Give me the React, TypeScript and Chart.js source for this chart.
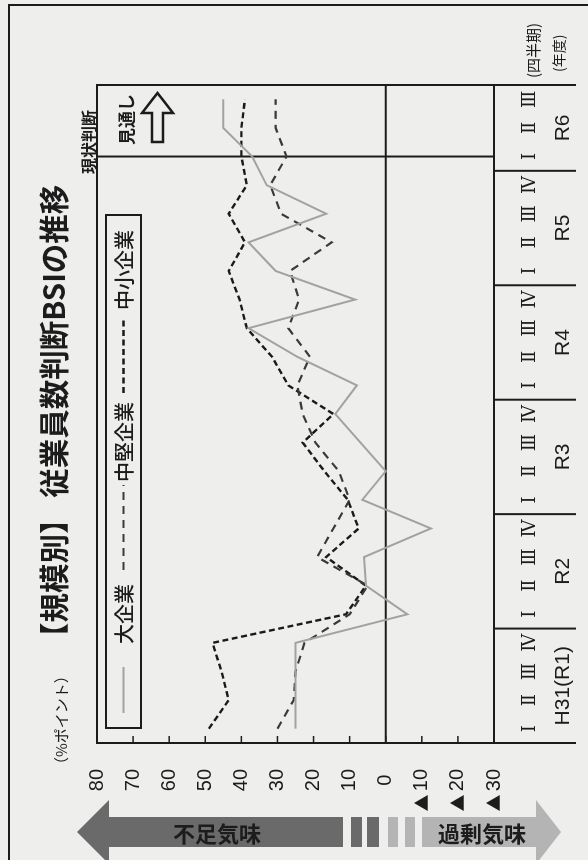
import React, { useEffect, useRef } from 'react';
import { Chart, registerables } from 'chart.js';

Chart.register(...registerables);

// 四半期ラベル (H31(R1)Ⅰ 〜 R6Ⅲ)
const quarterLabels = [
  'Ⅰ', 'Ⅱ', 'Ⅲ', 'Ⅳ',
  'Ⅰ', 'Ⅱ', 'Ⅲ', 'Ⅳ',
  'Ⅰ', 'Ⅱ', 'Ⅲ', 'Ⅳ',
  'Ⅰ', 'Ⅱ', 'Ⅲ', 'Ⅳ',
  'Ⅰ', 'Ⅱ', 'Ⅲ', 'Ⅳ',
  'Ⅰ', 'Ⅱ', 'Ⅲ',
];
const fiscalYears = ['H31(R1)', 'R2', 'R3', 'R4', 'R5', 'R6'];
const quartersInYear = [4, 4, 4, 4, 4, 3];

// 従業員数判断BSI（%ポイント）
const largeFirms = [25, 25, 25, 25, -6, 5.5, 6, -12.5, 6.5, 0, 7, 14, 8, 24.5, 38, 8.5, 30.5, 38, 16.5, 33, 37, 45, 45];
const midFirms = [30, 25.5, 25, 22.5, 10, 5, 19, 14.5, 10, 13, 19.5, 23, 24.5, 21, 27, 24, 26.5, 15, 29, 32, 27.5, 30.5, 30.5];
const smallFirms = [49, 43.5, 45.5, 48, 11, 5.5, 16.5, 7.5, 10.5, 17, 23, 14.5, 27, 31.5, 38.5, 40.5, 43.5, 39, 43.5, 38.5, 40, 40, 39];

const seriesNames = ['大企業', '中堅企業', '中小企業'];

const valueMin = -30;
const valueMax = 80;
const valueStep = 10;
const outlookFrom = 20; // R6Ⅰ = 現状判断、以降は見通し

const INK = '#1c1c1c';
const BG = '#eeeeec';
const LARGE_COLOR = '#a2a2a2';
const MID_COLOR = '#3a3a3a';
const SMALL_COLOR = '#1a1a1a';
const MID_DASH = [8, 6];
const SMALL_DASH = [6, 3.5];

const JP = '"Noto Sans CJK JP", "Noto Sans", sans-serif';
const LATIN = '"Liberation Sans", Arial, sans-serif';

// 枠・ゼロ線・見通し区切り・年度表を描くプラグイン
const framePlugin = {
  id: 'bsiFrame',
  beforeDatasetsDraw(chart: any) {
    const { ctx, chartArea: a } = chart;
    const xs = chart.scales.x;
    const ys = chart.scales.y;
    const seg = (x1: number, y1: number, x2: number, y2: number) => {
      ctx.beginPath();
      ctx.moveTo(x1, y1);
      ctx.lineTo(x2, y2);
      ctx.stroke();
    };
    ctx.save();
    ctx.strokeStyle = INK;
    ctx.fillStyle = INK;
    ctx.lineWidth = 2;

    ctx.strokeRect(a.left, a.top, a.right - a.left, a.bottom - a.top);

    const y0 = ys.getPixelForValue(0);
    seg(a.left, y0, a.right, y0);

    const xd = xs.getPixelForValue(outlookFrom);
    seg(xd, a.top, xd, a.bottom);

    // 目盛り（内向き）
    ctx.lineWidth = 1.5;
    for (let v = valueMin; v <= valueMax; v += valueStep) {
      const py = ys.getPixelForValue(v);
      seg(a.left, py, a.left + 7, py);
    }

    // 年度表
    ctx.lineWidth = 2;
    const tableBottom = a.bottom + 82;
    seg(a.left, a.bottom, a.left, tableBottom);
    seg(a.right, a.bottom, a.right, tableBottom);
    const half = (xs.getPixelForValue(1) - xs.getPixelForValue(0)) / 2;
    ctx.font = `21px ${LATIN}`;
    ctx.textAlign = 'center';
    ctx.textBaseline = 'middle';
    let idx = 0;
    fiscalYears.forEach((fy, i) => {
      const n = quartersInYear[i];
      const start = xs.getPixelForValue(idx) - half;
      const end = xs.getPixelForValue(idx + n - 1) + half;
      if (i > 0) seg(start, a.bottom, start, tableBottom);
      ctx.fillText(fy, (start + end) / 2, a.bottom + 69);
      idx += n;
    });

    // マイナス側の▲
    ctx.font = `17px ${JP}`;
    for (let v = -valueStep; v >= valueMin; v -= valueStep) {
      ctx.fillText('▲', 57, ys.getPixelForValue(v));
    }
    ctx.restore();
  },
};

export default function App() {
  const canvasRef = useRef<HTMLCanvasElement>(null);

  useEffect(() => {
    document.body.style.margin = '0';
    const canvas = canvasRef.current;
    if (!canvas) return;
    const chart = new Chart(canvas, {
      type: 'line',
      data: {
        labels: quarterLabels,
        datasets: [
          {
            label: seriesNames[0],
            data: largeFirms,
            borderColor: LARGE_COLOR,
            borderWidth: 2,
            pointRadius: 0,
            tension: 0,
            fill: false,
          },
          {
            label: seriesNames[1],
            data: midFirms,
            borderColor: MID_COLOR,
            borderWidth: 2.2,
            borderDash: MID_DASH,
            pointRadius: 0,
            tension: 0,
            fill: false,
          },
          {
            label: seriesNames[2],
            data: smallFirms,
            borderColor: SMALL_COLOR,
            borderWidth: 2.4,
            borderDash: SMALL_DASH,
            pointRadius: 0,
            tension: 0,
            fill: false,
          },
        ],
      },
      options: {
        responsive: false,
        maintainAspectRatio: false,
        animation: false,
        devicePixelRatio: 1,
        layout: { padding: { top: 97, right: 85, bottom: 0, left: 0 } },
        plugins: {
          legend: { display: false },
          tooltip: { enabled: false },
        },
        scales: {
          x: {
            type: 'category',
            offset: true,
            grid: { display: false },
            border: { display: false },
            ticks: {
              autoSkip: false,
              maxRotation: 0,
              minRotation: 0,
              padding: 18,
              color: INK,
              font: { family: '"DejaVu Serif", serif', size: 18 },
            },
            afterFit: (s: any) => {
              s.height = 94;
            },
          },
          y: {
            min: valueMin,
            max: valueMax,
            grid: { display: false },
            border: { display: false },
            ticks: {
              stepSize: valueStep,
              crossAlign: 'center',
              padding: 18,
              color: INK,
              font: { family: LATIN, size: 20 },
              callback: (v: any) => String(Math.abs(Number(v))),
            },
            afterFit: (s: any) => {
              s.width = 117;
            },
          },
        },
      },
      plugins: [framePlugin],
    } as any);
    return () => chart.destroy();
  }, []);

  const mid = 28;
  return (
    <div
      style={{
        position: 'fixed',
        left: 0,
        top: 0,
        width: 588,
        height: 860,
        overflow: 'hidden',
        background: BG,
      }}
    >
      <div
        style={{
          position: 'absolute',
          left: 0,
          top: 0,
          width: 860,
          height: 588,
          transformOrigin: '0 0',
          transform: 'translateY(860px) rotate(-90deg)',
          background: BG,
        }}
      >
        <canvas
          ref={canvasRef}
          width={860}
          height={588}
          style={{ position: 'absolute', left: 0, top: 0, width: 860, height: 588 }}
        />
        <svg
          width={860}
          height={588}
          style={{ position: 'absolute', left: 0, top: 0, pointerEvents: 'none' }}
        >
          {/* 外枠 */}
          <path d="M -2 9 H 855 V 600" fill="none" stroke={INK} strokeWidth={2} />

          {/* タイトル */}
          <text x={208} y={52} fontFamily={JP} fontSize={29.5} fontWeight={700} fill={INK} dominantBaseline="central">
            【規模別】 従業員数判断BSIの推移
          </text>
          <text x={88} y={60} fontFamily={JP} fontSize={15} fill={INK} dominantBaseline="central">
            （%ポイント）
          </text>
          <text x={686} y={88} fontFamily={JP} fontSize={16} fontWeight={700} fill={INK} dominantBaseline="central">
            現状判断
          </text>
          <text x={782} y={532} fontFamily={JP} fontSize={15} fill={INK} dominantBaseline="central">
            (四半期)
          </text>
          <text x={788} y={558} fontFamily={JP} fontSize={14} fill={INK} dominantBaseline="central">
            (年度)
          </text>

          {/* 見通し */}
          <text x={715} y={125} fontFamily={JP} fontSize={17} fontWeight={700} fill={INK} dominantBaseline="central">
            見通し
          </text>
          <polygon
            points="718,152 747,152 747,142 767,157.5 747,173 747,163 718,163"
            fill={BG}
            stroke={INK}
            strokeWidth={2.5}
          />

          {/* 凡例 */}
          <rect x={132} y={106} width={513} height={35} fill={BG} stroke={INK} strokeWidth={2} />
          <line x1={147} x2={193} y1={123.5} y2={123.5} stroke={LARGE_COLOR} strokeWidth={2} />
          <text x={216} y={123.5} fontFamily={JP} fontSize={20} fontWeight={500} fill={INK} dominantBaseline="central">
            {seriesNames[0]}
          </text>
          <line x1={290} x2={375} y1={123.5} y2={123.5} stroke={MID_COLOR} strokeWidth={2.2} strokeDasharray={MID_DASH.join(' ')} />
          <text x={378} y={123.5} fontFamily={JP} fontSize={20} fontWeight={500} fill={INK} dominantBaseline="central">
            {seriesNames[1]}
          </text>
          <line x1={467} x2={541} y1={123.5} y2={123.5} stroke={SMALL_COLOR} strokeWidth={2.4} strokeDasharray={SMALL_DASH.join(' ')} />
          <text x={550} y={123.5} fontFamily={JP} fontSize={20} fontWeight={500} fill={INK} dominantBaseline="central">
            {seriesNames[2]}
          </text>

          {/* 不足気味 ⇔ 過剰気味 */}
          <polygon
            points={`${mid},77 60,109 43,109 43,343 13,343 13,109 -4,109`}
            fill="#6a6a6a"
          />
          <rect x={13} y={351} width={30} height={11} fill="#6a6a6a" />
          <rect x={13} y={367} width={30} height={12} fill="#6a6a6a" />
          <rect x={13} y={388} width={30} height={10} fill="#b4b4b4" />
          <rect x={13} y={405} width={30} height={10} fill="#b4b4b4" />
          <polygon
            points={`13,422 43,422 43,536 60,536 ${mid},561 -4,536 13,536`}
            fill="#b4b4b4"
          />
          <text
            x={mid}
            y={217}
            transform={`rotate(90 ${mid} 217)`}
            fontFamily={JP}
            fontSize={22}
            fontWeight={700}
            fill={INK}
            textAnchor="middle"
            dominantBaseline="central"
          >
            不足気味
          </text>
          <text
            x={mid}
            y={482}
            transform={`rotate(90 ${mid} 482)`}
            fontFamily={JP}
            fontSize={22}
            fontWeight={700}
            fill={INK}
            textAnchor="middle"
            dominantBaseline="central"
          >
            過剰気味
          </text>
        </svg>
      </div>
    </div>
  );
}
